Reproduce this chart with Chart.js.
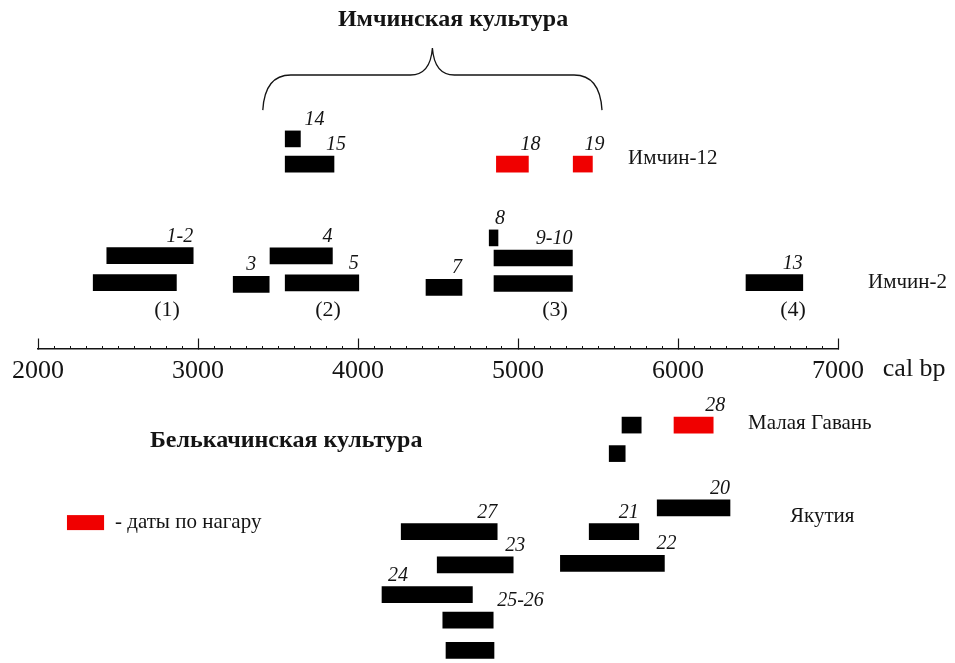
<!DOCTYPE html>
<html>
<head>
<meta charset="utf-8">
<script src="https://cdn.jsdelivr.net/npm/chart.js@4.4.1/dist/chart.umd.min.js"></script>
<style>
  html, body { margin: 0; padding: 0; background: #fff; }
  #wrap { width: 955px; height: 663px; }
</style>
</head>
<body>
<div id="wrap"><canvas id="chart" width="955" height="663"></canvas></div>
<script>
// Радиоуглеродные даты (cal bp): начало, конец, ряд (по вертикали)
const blackNumbers = ["14", "15", "1-2", "", "3", "4", "5", "7", "8", "9-10", "", "13",
                      "", "", "20", "21", "22", "27", "23", "24", "25-26", ""];
const blackFrom = [3545, 3545, 2430, 2345, 3220, 3450, 3545, 4425, 4820, 4850, 4850, 6425,
                   5650, 5570, 5870, 5445, 5265, 4270, 4495, 4150, 4530, 4550];
const blackTo   = [3640, 3850, 2970, 2865, 3445, 3840, 4005, 4650, 4875, 5340, 5340, 6780,
                   5770, 5670, 6325, 5755, 5915, 4870, 4970, 4715, 4845, 4850];
const blackRow  = [4.63, 5.47, 8.52, 9.42, 9.48, 8.53, 9.43, 9.58, 7.93, 8.6, 9.45, 9.42,
                   14.17, 15.12, 16.93, 17.72, 18.78, 17.72, 18.83, 19.82, 20.67, 21.68];

// даты по нагару
const redNumbers = ["18", "19", "28"];
const redFrom = [4865, 5345, 5975];
const redTo   = [5065, 5465, 6220];
const redRow  = [5.47, 5.47, 14.17];

// шкала
const axisMin = 2000;
const axisMax = 7000;
const axisRow = 11.62;

// подписи комплексов Имчин-2
const groupNames = ["(1)", "(2)", "(3)", "(4)"];
const groupAt = [2806, 3813, 5231, 6719];

const serif = "'Liberation Serif', 'Times New Roman', serif";
const RED = "rgb(240, 0, 0)";
const INK = "#141414";

// где ставить номер относительно полосы
const numberPlace = {
  "14": "after", "15": "mid", "3": "center", "8": "mid", "18": "mid", "19": "mid",
  "28": "mid", "22": "mid", "23": "mid", "24": "start", "25-26": "after"
};

const toBars = (from, to, row) => from.map((v, i) => ({ x: [v, to[i]], y: row[i] }));

// оси не должны отнимать место у области графика
const noPadding = s => { s.paddingLeft = 0; s.paddingRight = 0; s.paddingTop = 0; s.paddingBottom = 0; };

const overlay = {
  id: "overlay",
  afterDatasetsDraw(chart) {
    const ctx = chart.ctx;
    const px = v => chart.scales.x.getPixelForValue(v);
    const py = v => chart.scales.y.getPixelForValue(v);
    ctx.save();
    ctx.fillStyle = INK;
    ctx.strokeStyle = INK;

    // номера дат над полосами
    ctx.font = "italic 20px " + serif;
    ctx.textBaseline = "alphabetic";
    chart.data.datasets.forEach((ds, di) => {
      const meta = chart.getDatasetMeta(di);
      ds.numbers.forEach((txt, i) => {
        if (!txt) return;
        const el = meta.data[i];
        const left = Math.min(el.x, el.base), right = Math.max(el.x, el.base);
        const top = el.y - el.height / 2 - 6;
        const place = numberPlace[txt] || "end";
        let tx = right, align = "right";
        if (place === "mid") { align = "center"; tx = right + 2; }
        if (place === "after") { align = "left"; tx = right + 4; }
        if (place === "center") { align = "center"; tx = (left + right) / 2; }
        if (place === "start") { align = "left"; tx = left + 6; }
        ctx.textAlign = align;
        ctx.fillText(txt, tx, top);
      });
    });

    // (1) ... (4)
    ctx.font = "22px " + serif;
    ctx.textAlign = "center";
    ctx.textBaseline = "middle";
    groupNames.forEach((g, i) => ctx.fillText(g, px(groupAt[i]), py(10.33)));

    // памятники
    ctx.font = "21px " + serif;
    ctx.textAlign = "left";
    ctx.fillText("Имчин-12", px(5688), py(5.27));
    ctx.fillText("Имчин-2", px(7188), py(9.43));
    ctx.fillText("Малая Гавань", px(6438), py(14.13));
    ctx.fillText("Якутия", px(6700), py(17.23));

    // единицы шкалы
    ctx.font = "26px " + serif;
    ctx.fillText("cal bp", px(7280), py(12.3));

    // культуры
    ctx.font = "bold 24px " + serif;
    ctx.textAlign = "center";
    ctx.fillText("Имчинская культура", px(4594), py(0.67));
    ctx.textAlign = "left";
    ctx.fillText("Белькачинская культура", px(2700), py(14.7));

    // фигурная скобка
    const L = px(3405), R = px(5525), P = px(4465);
    const yb = py(3.67), yf = py(2.5), yp = py(1.6);
    ctx.lineWidth = 1.3;
    ctx.beginPath();
    ctx.moveTo(L, yb);
    ctx.quadraticCurveTo(L + 2, yf, L + 28, yf);
    ctx.lineTo(P - 22, yf);
    ctx.quadraticCurveTo(P - 2, yf, P, yp);
    ctx.quadraticCurveTo(P + 2, yf, P + 22, yf);
    ctx.lineTo(R - 28, yf);
    ctx.quadraticCurveTo(R - 2, yf, R, yb);
    ctx.stroke();

    // условное обозначение
    ctx.fillStyle = RED;
    const ly = py(17.42);
    ctx.fillRect(px(2181), ly - 7.5, px(2413) - px(2181), 15);
    ctx.fillStyle = INK;
    ctx.font = "21px " + serif;
    ctx.textBaseline = "middle";
    ctx.fillText("- даты по нагару", px(2481), ly);
    ctx.restore();
  }
};

new Chart(document.getElementById("chart").getContext("2d"), {
  type: "bar",
  data: {
    datasets: [
      { numbers: blackNumbers, data: toBars(blackFrom, blackTo, blackRow), backgroundColor: "#000" },
      { numbers: redNumbers, data: toBars(redFrom, redTo, redRow), backgroundColor: RED }
    ]
  },
  options: {
    responsive: false,
    animation: false,
    indexAxis: "y",
    layout: { padding: { left: 38, right: 117, top: 0, bottom: 0 } },
    datasets: { bar: { barThickness: 16, grouped: false, borderWidth: 0 } },
    plugins: { legend: { display: false }, tooltip: { enabled: false } },
    scales: {
      y: {
        type: "linear", reverse: true, min: 0, max: 22.1, offset: false, display: false,
        ticks: { display: false }, afterFit: noPadding
      },
      x: {
        type: "linear",
        min: axisMin,
        max: axisMax,
        position: { y: axisRow },
        border: { color: INK, width: 1.5 },
        grid: { drawOnChartArea: false, tickLength: -11, tickColor: INK, tickWidth: 1.2 },
        ticks: {
          stepSize: 1000,
          padding: 18,
          autoSkip: false,
          maxRotation: 0,
          color: INK,
          font: { family: serif, size: 26 },
          callback: v => String(v)
        },
        afterFit: noPadding
      },
      xMinor: {
        type: "linear",
        axis: "x",
        min: axisMin,
        max: axisMax,
        position: { y: axisRow },
        border: { display: false },
        grid: { drawOnChartArea: false, tickLength: -3, tickColor: INK, tickWidth: 1 },
        ticks: { stepSize: 100, display: false, font: { size: 6 } },
        afterFit: noPadding
      }
    }
  },
  plugins: [overlay]
});
</script>
</body>
</html>
